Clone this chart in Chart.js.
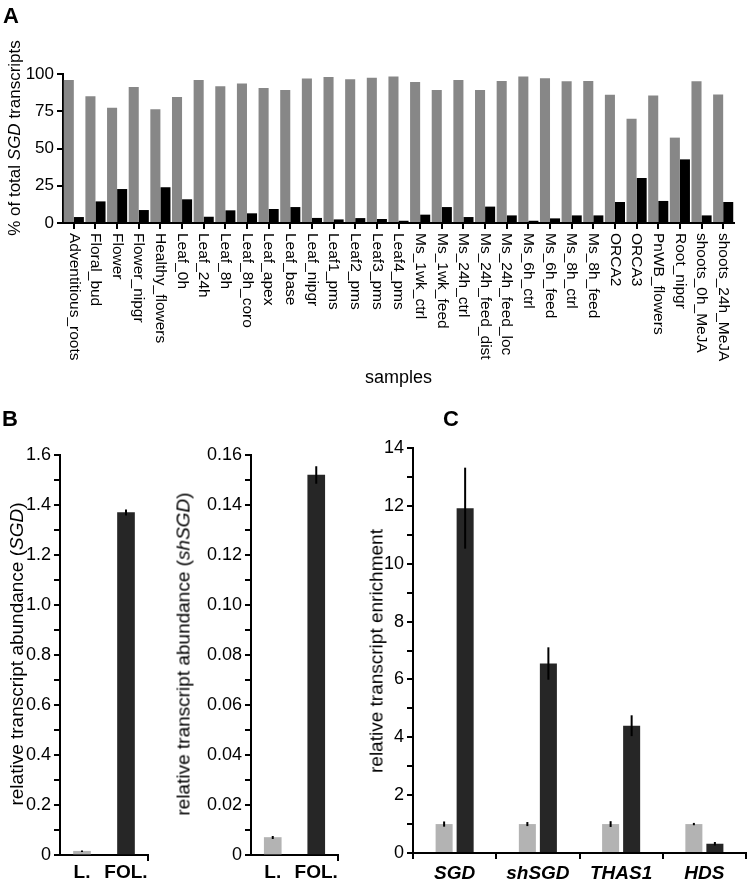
<!DOCTYPE html>
<html>
<head>
<meta charset="utf-8">
<script src="https://cdn.jsdelivr.net/npm/chart.js@4.4.0/dist/chart.umd.min.js"></script>
<style>
  body { margin: 0; background: #fff; }
  #fig { position: relative; width: 750px; height: 882px; font-family: "Liberation Sans", Arial, sans-serif; color: #000; }
  canvas { position: absolute; }
  .panel { position: absolute; font-weight: bold; font-size: 22px; line-height: 1; }
  .ytitle { position: absolute; white-space: nowrap; line-height: 1; transform: translate(-50%, -50%) rotate(-90deg); }
</style>
</head>
<body>
<div id="fig">
  <canvas id="chartA" width="750" height="390" style="left:0;top:0"></canvas>
  <canvas id="chartB1" width="160" height="452" style="left:0;top:430px"></canvas>
  <canvas id="chartB2" width="190" height="452" style="left:160px;top:430px"></canvas>
  <canvas id="chartC" width="400" height="452" style="left:350px;top:430px"></canvas>

  <div class="panel" style="left:3px;top:5px">A</div>
  <div class="panel" style="left:2px;top:408px">B</div>
  <div class="panel" style="left:443px;top:408px">C</div>

  <div class="ytitle" style="left:14px;top:138px;font-size:17px">% of total <i>SGD</i> transcripts</div>
  <div class="ytitle" style="left:16px;top:654px;font-size:19px">relative transcript abundance (<i>SGD</i>)</div>
  <div class="ytitle" style="left:183px;top:654px;font-size:19px">relative transcript abundance (<i>shSGD</i>)</div>
  <div class="ytitle" style="left:376px;top:651px;font-size:19px">relative transcript enrichment</div>
</div>
<script>
// panel A: share of SGD vs shSGD transcripts per sample (%)
const sampleNames = [
  'Adventitious_roots', 'Floral_bud', 'Flower', 'Flower_nipgr', 'Healthy_flowers',
  'Leaf_0h', 'Leaf_24h', 'Leaf_8h', 'Leaf_8h_coro', 'Leaf_apex', 'Leaf_base',
  'Leaf_nipgr', 'Leaf1_pms', 'Leaf2_pms', 'Leaf3_pms', 'Leaf4_pms',
  'Ms_1wk_ctrl', 'Ms_1wk_feed', 'Ms_24h_ctrl', 'Ms_24h_feed_dist', 'Ms_24h_feed_loc',
  'Ms_6h_ctrl', 'Ms_6h_feed', 'Ms_8h_ctrl', 'Ms_8h_feed', 'ORCA2', 'ORCA3',
  'PnWB_flowers', 'Root_nipgr', 'shoots_0h_MeJA', 'shoots_24h_MeJA'
];
const sgdShare = [96, 85, 77.4, 91.3, 76.3, 84.6, 96, 91.7, 93.7, 90.6, 89.3,
  96.9, 98, 96.4, 97.5, 98.4, 94.6, 89.3, 96, 89.3, 95.3,
  98.4, 97.1, 95.1, 95.3, 86.1, 70, 85.5, 57.3, 95.1, 86.3];
const shSgdShare = [4, 14.5, 22.8, 8.7, 24, 15.9, 4.2, 8.5, 6.5, 9.4, 10.7,
  3.4, 2.4, 3.3, 2.7, 1.5, 5.6, 10.7, 4, 11, 5.1,
  1.5, 3.1, 5.1, 5.1, 14.1, 30.2, 14.8, 42.7, 5.1, 14.1];

// panel B: relative abundance in L. and FOL.
const tissues = ['L.', 'FOL.'];
const sgdAbundance = [0.015, 1.37];
const sgdAbundanceErr = [0.003, 0.012];
const shSgdAbundance = [0.007, 0.152];
const shSgdAbundanceErr = [0.0006, 0.0035];

// panel C: enrichment per gene
const genes = ['SGD', 'shSGD', 'THAS1', 'HDS'];
const enrichLeaf = [1.0, 1.0, 1.0, 1.0];
const enrichLeafErr = [0.09, 0.07, 0.1, 0.04];
const enrichFol = [11.92, 6.55, 4.4, 0.32];
const enrichFolErr = [1.4, 0.56, 0.36, 0.06];

const FONT = '"Liberation Sans", Arial, sans-serif';
Chart.defaults.font.family = FONT;
Chart.defaults.color = '#000';

const errorBars = {
    id: 'errorBars',
    afterDatasetsDraw(chart) {
        const ctx = chart.ctx;
        const y = chart.scales.y;
        ctx.save();
        ctx.strokeStyle = '#000';
        ctx.lineWidth = 2;
        chart.data.datasets.forEach((ds, i) => {
            if (!ds.errors) return;
            chart.getDatasetMeta(i).data.forEach((bar, j) => {
                const v = ds.data[j], e = ds.errors[j];
                ctx.beginPath();
                ctx.moveTo(bar.x, y.getPixelForValue(v + e));
                ctx.lineTo(bar.x, y.getPixelForValue(Math.max(0, v - e)));
                ctx.stroke();
            });
        });
        ctx.restore();
    }
};

// sample names read top to bottom under each tick
const sampleLabels = {
    id: 'sampleLabels',
    afterDraw(chart) {
        const x = chart.scales.x, ctx = chart.ctx;
        ctx.save();
        ctx.fillStyle = '#000';
        ctx.font = '15.5px ' + FONT;
        ctx.textAlign = 'left';
        ctx.textBaseline = 'middle';
        chart.data.labels.forEach((lab, i) => {
            ctx.save();
            ctx.translate(x.getPixelForTick(i), x.top + 10);
            ctx.rotate(Math.PI / 2);
            ctx.fillText(lab, 0, 0);
            ctx.restore();
        });
        ctx.restore();
    }
};

function yAxis(width, max, step, fmt, size) {
    return {
        min: 0,
        max: max,
        ticks: {stepSize: step, autoSkip: false, padding: 3, color: '#000', font: {size: size}, callback: fmt},
        grid: {drawOnChartArea: false, tickLength: 6, lineWidth: 2, color: '#000'},
        border: {display: true, color: '#000', width: 2},
        afterFit: s => { s.width = width; }
    };
}

// category axis with one tick mark only at the right end
function endTickAxis(height, font) {
    const c = ctx => ctx.type === 'scale' ? '#000' : 'rgba(0,0,0,0)';
    return {
        ticks: {autoSkip: false, maxRotation: 0, padding: 0, color: '#000', font: font},
        grid: {offset: true, drawOnChartArea: false, tickLength: 6, lineWidth: 2, color: c, tickColor: c},
        border: {display: true, color: '#000', width: 2},
        afterFit: s => { s.height = height; }
    };
}

function baseOptions(padding, scales) {
    return {
        responsive: false,
        animation: false,
        devicePixelRatio: 1,
        layout: {padding: padding},
        plugins: {legend: {display: false}, tooltip: {enabled: false}},
        scales: scales
    };
}

const oneDec = v => Math.round(v * 10) % 2 === 0 ? (Math.abs(v) < 1e-9 ? '0' : v.toFixed(1)) : '';
const twoDec = v => Math.round(v * 100) % 2 === 0 ? (Math.abs(v) < 1e-9 ? '0' : v.toFixed(2)) : '';
const evenInt = v => Math.round(v) % 2 === 0 ? String(Math.round(v)) : '';

new Chart(document.getElementById('chartA'), {
    type: 'bar',
    data: {
        labels: sampleNames,
        datasets: [
            {label: 'SGD', data: sgdShare, backgroundColor: '#878787', categoryPercentage: 0.93, barPercentage: 1.0},
            {label: 'shSGD', data: shSgdShare, backgroundColor: '#000000', categoryPercentage: 0.93, barPercentage: 1.0}
        ]
    },
    options: baseOptions({top: 74, right: 16, left: 0, bottom: 0}, {
        x: {
            ticks: {autoSkip: false, minRotation: 90, maxRotation: 90, color: 'rgba(0,0,0,0)', font: {size: 15}},
            grid: {offset: false, drawOnChartArea: false, tickLength: 6, lineWidth: 2, color: '#000'},
            border: {display: true, color: '#000', width: 2},
            title: {display: true, text: 'samples', color: '#000', font: {size: 18}, padding: {top: 0, bottom: 1}},
            afterFit: s => { s.height = 167; }
        },
        y: yAxis(63, 100, 25, v => String(v), 17)
    }),
    plugins: [sampleLabels]
});

new Chart(document.getElementById('chartB1'), {
    type: 'bar',
    data: {
        labels: tissues,
        datasets: [{label: 'SGD', data: sgdAbundance, errors: sgdAbundanceErr,
            backgroundColor: ['#b3b3b3', '#262626'], barThickness: 17}]
    },
    options: baseOptions({top: 25, right: 12, left: 0, bottom: 0}, {
        x: endTickAxis(27, {size: 19, weight: 'bold'}),
        y: yAxis(60, 1.6, 0.1, oneDec, 18)
    }),
    plugins: [errorBars]
});

new Chart(document.getElementById('chartB2'), {
    type: 'bar',
    data: {
        labels: tissues,
        datasets: [{label: 'shSGD', data: shSgdAbundance, errors: shSgdAbundanceErr,
            backgroundColor: ['#b3b3b3', '#262626'], barThickness: 17}]
    },
    options: baseOptions({top: 25, right: 12, left: 0, bottom: 0}, {
        x: endTickAxis(27, {size: 19, weight: 'bold'}),
        y: yAxis(91, 0.16, 0.01, twoDec, 18)
    }),
    plugins: [errorBars]
});

new Chart(document.getElementById('chartC'), {
    type: 'bar',
    data: {
        labels: genes,
        datasets: [
            {label: 'L.', data: enrichLeaf, errors: enrichLeafErr, backgroundColor: '#b3b3b3',
                categoryPercentage: 0.505, barPercentage: 0.81},
            {label: 'FOL.', data: enrichFol, errors: enrichFolErr, backgroundColor: '#262626',
                categoryPercentage: 0.505, barPercentage: 0.81}
        ]
    },
    options: baseOptions({top: 18, right: 4, left: 0, bottom: 0}, {
        x: {
            ticks: {autoSkip: false, maxRotation: 0, padding: 3, color: '#000', font: {size: 19, weight: 'bold', style: 'italic'}},
            grid: {offset: true, drawOnChartArea: false, tickLength: 6, lineWidth: 2, color: '#000'},
            border: {display: true, color: '#000', width: 2},
            afterFit: s => { s.height = 29; }
        },
        y: yAxis(63, 14, 1, evenInt, 18)
    }),
    plugins: [errorBars]
});
</script>
</body>
</html>
